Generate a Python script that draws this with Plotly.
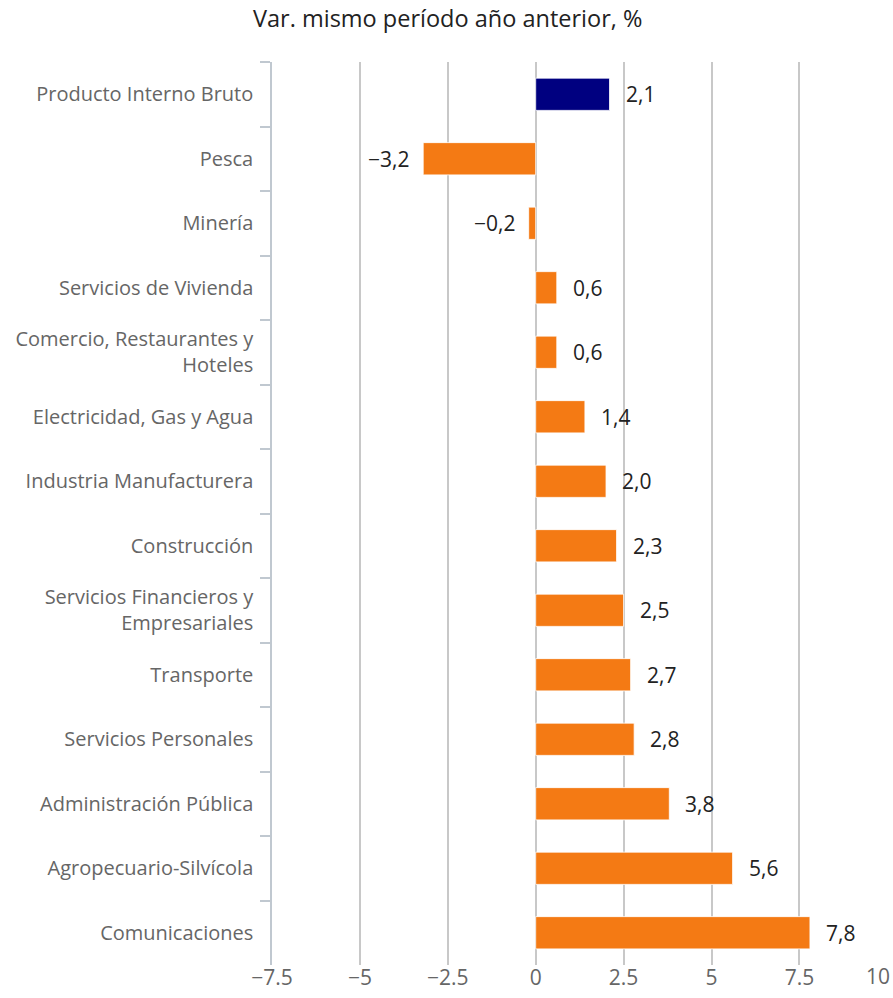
import plotly.graph_objects as go

categories = [
    "Producto Interno Bruto",
    "Pesca",
    "Minería",
    "Servicios de Vivienda",
    "Comercio, Restaurantes y<br>Hoteles",
    "Electricidad, Gas y Agua",
    "Industria Manufacturera",
    "Construcción",
    "Servicios Financieros y<br>Empresariales",
    "Transporte",
    "Servicios Personales",
    "Administración Pública",
    "Agropecuario-Silvícola",
    "Comunicaciones",
]
values = [2.1, -3.2, -0.2, 0.6, 0.6, 1.4, 2.0, 2.3, 2.5, 2.7, 2.8, 3.8, 5.6, 7.8]
x_ticks = [-7.5, -5, -2.5, 0, 2.5, 5, 7.5, 10]
x_tick_labels = ["−7.5", "−5", "−2.5", "0", "2.5", "5", "7.5", "10"]
title_text = "Var. mismo período año anterior, %"

NAVY = "#000080"
ORANGE = "#F47A14"
colors = [NAVY] + [ORANGE] * (len(values) - 1)

FONT = "Open Sans"
W, H = 893, 998
ML, MR, MT, MB = 272, 5, 62, 33
TICKFONT = dict(family=FONT, size=21, color="#666666")

fig = go.Figure()
fig.add_trace(go.Bar(
    x=values,
    y=categories,
    orientation="h",
    marker=dict(color=colors, line=dict(color="rgba(255,255,255,0.8)", width=1)),
    hoverinfo="skip",
))

annotations = []
for c, v in zip(categories, values):
    lbl = f"{abs(v):.1f}".replace(".", ",")
    if v < 0:
        lbl = "−" + lbl
    annotations.append(dict(
        x=v, y=c, xref="x", yref="y",
        text=lbl, showarrow=False,
        xanchor="left" if v >= 0 else "right",
        xshift=14 if v >= 0 else -12,
        font=dict(family=FONT, size=21, color="#222222"),
    ))

# last x tick label drawn as an annotation so it stays inside the page (right-aligned at edge)
annotations.append(dict(
    x=x_ticks[-1], y=0, xref="x", yref="paper",
    text=x_tick_labels[-1], showarrow=False,
    xanchor="right", yanchor="middle", xshift=5, yshift=-11,
    font=TICKFONT,
))

annotations.append(dict(
    x=(447 - ML) / (W - ML - MR), y=1, xref="paper", yref="paper", yshift=44,
    text=title_text, showarrow=False, xanchor="center", yanchor="middle",
    font=dict(family=FONT, size=23.5, color="#222222"),
))

fig.update_layout(
    width=W, height=H,
    margin=dict(l=ML, r=MR, t=MT, b=MB, autoexpand=False),
    paper_bgcolor="white", plot_bgcolor="white",
    showlegend=False,
    bargap=0.5,
    annotations=annotations,
    font=dict(family=FONT),
    xaxis=dict(
        range=[-7.5, 10.02],
        tickvals=x_ticks, ticktext=x_tick_labels[:-1] + [""],
        showgrid=True, gridcolor="#C8C8C8", gridwidth=1.5,
        zeroline=False, showline=False,
        tickfont=TICKFONT,
        ticks="", fixedrange=True,
        ticklabelstandoff=-2,
        automargin=False,
    ),
    yaxis=dict(
        autorange="reversed",
        type="category",
        showline=True, linecolor="#C0C8D0", linewidth=1.5,
        ticks="outside", tickson="boundaries", ticklen=10,
        tickcolor="#C0C8D0", tickwidth=1.5,
        showgrid=False,
        tickfont=dict(family=FONT, size=20, color="#666666"),
        ticklabelstandoff=13,
        automargin=False,
    ),
)

fig.write_html("out.html")
